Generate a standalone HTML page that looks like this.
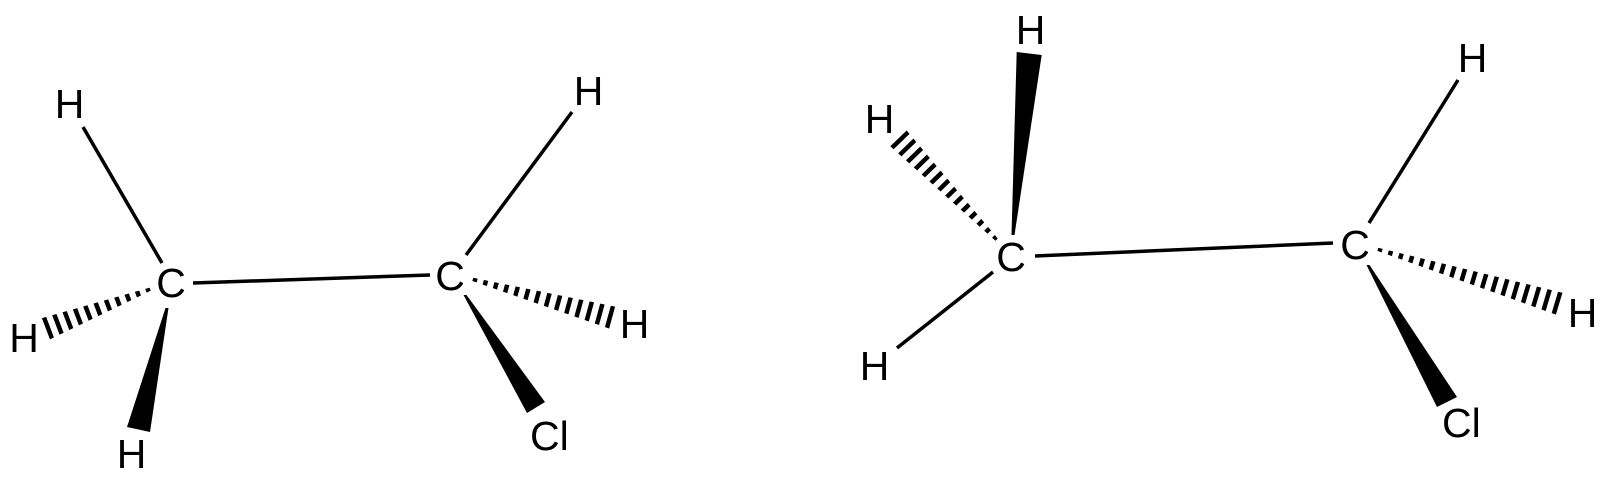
<!DOCTYPE html>
<html>
<head>
<meta charset="utf-8">
<style>
  html, body { margin: 0; padding: 0; background: #fff; }
  svg { display: block; }
  text { font-family: "Liberation Sans", Arial, sans-serif; font-size: 41px; fill: #000; }
</style>
</head>
<body>
<svg width="1607" height="489" viewBox="0 0 1607 489" xmlns="http://www.w3.org/2000/svg">
  <defs>
    <clipPath id="cp1" clipPathUnits="userSpaceOnUse">
      <polygon points="-3,-1.6 111,-11.5 111,11.5 -3,1.6"/>
    </clipPath>
    <clipPath id="cp2" clipPathUnits="userSpaceOnUse">
      <polygon points="-3,-1.6 144,-11.5 144,11.5 -3,1.6"/>
    </clipPath>
    <clipPath id="cp3" clipPathUnits="userSpaceOnUse">
      <polygon points="-3,-1.6 140.5,-11.5 140.5,11.5 -3,1.6"/>
    </clipPath>
    <clipPath id="cp4" clipPathUnits="userSpaceOnUse">
      <polygon points="-3,-1.6 189,-11.5 189,11.5 -3,1.6"/>
    </clipPath>
  </defs>

  <rect width="1607" height="489" fill="#fff"/>

  <g stroke="#000" stroke-width="3.5" fill="none">
    <!-- Molecule 1 -->
    <line x1="83" y1="127" x2="162" y2="263"/>
    <line x1="193" y1="283" x2="430" y2="275"/>
    <line x1="466" y1="255" x2="572" y2="112"/>
    <!-- Molecule 2 -->
    <line x1="1035" y1="256" x2="1333" y2="243"/>
    <line x1="993" y1="272" x2="897" y2="348"/>
    <line x1="1369" y1="223" x2="1458" y2="80"/>
  </g>

  <!-- Hashed wedges -->
  <g transform="translate(148,290) rotate(159.2)">
    <line x1="-2.25" y1="0" x2="109.2" y2="0" stroke="#000" stroke-width="26" stroke-dasharray="4.5 6.2" clip-path="url(#cp1)"/>
  </g>
  <g transform="translate(475,280) rotate(15.33)">
    <line x1="-2.25" y1="0" x2="142.2" y2="0" stroke="#000" stroke-width="26" stroke-dasharray="4.5 6.27" clip-path="url(#cp2)"/>
  </g>
  <g transform="translate(995,238) rotate(-134.1)">
    <line x1="-2.25" y1="0" x2="138.8" y2="0" stroke="#000" stroke-width="26" stroke-dasharray="4.5 6.0" clip-path="url(#cp3)"/>
  </g>
  <g transform="translate(1380,250) rotate(16.67)">
    <line x1="-2.25" y1="0" x2="187.1" y2="0" stroke="#000" stroke-width="26" stroke-dasharray="4.5 6.37" clip-path="url(#cp4)"/>
  </g>

  <!-- Solid wedges -->
  <g fill="#000">
    <polygon points="165.5,308 168.5,308 150,432 127,427"/>
    <polygon points="463.5,295 466.5,295 545,402 527,413"/>
    <polygon points="1016.7,52 1041.7,55 1014.5,235 1011.5,235"/>
    <polygon points="1366.5,265 1369.5,265 1457,397 1437,407"/>
  </g>

  <!-- Labels: molecule 1 -->
  <text x="69.5" y="118" text-anchor="middle">H</text>
  <text x="171" y="297" text-anchor="middle">C</text>
  <text x="24" y="352" text-anchor="middle">H</text>
  <text x="131.5" y="468" text-anchor="middle">H</text>
  <text x="450" y="290" text-anchor="middle">C</text>
  <text x="588.5" y="105" text-anchor="middle">H</text>
  <text x="634.5" y="338" text-anchor="middle">H</text>
  <text x="530" y="450">Cl</text>

  <!-- Labels: molecule 2 -->
  <text x="1030.5" y="44" text-anchor="middle">H</text>
  <text x="879.5" y="133" text-anchor="middle">H</text>
  <text x="1011" y="271" text-anchor="middle">C</text>
  <text x="874.5" y="380" text-anchor="middle">H</text>
  <text x="1355" y="259" text-anchor="middle">C</text>
  <text x="1472.5" y="72" text-anchor="middle">H</text>
  <text x="1582.5" y="327" text-anchor="middle">H</text>
  <text x="1442" y="437">Cl</text>
</svg>
</body>
</html>
